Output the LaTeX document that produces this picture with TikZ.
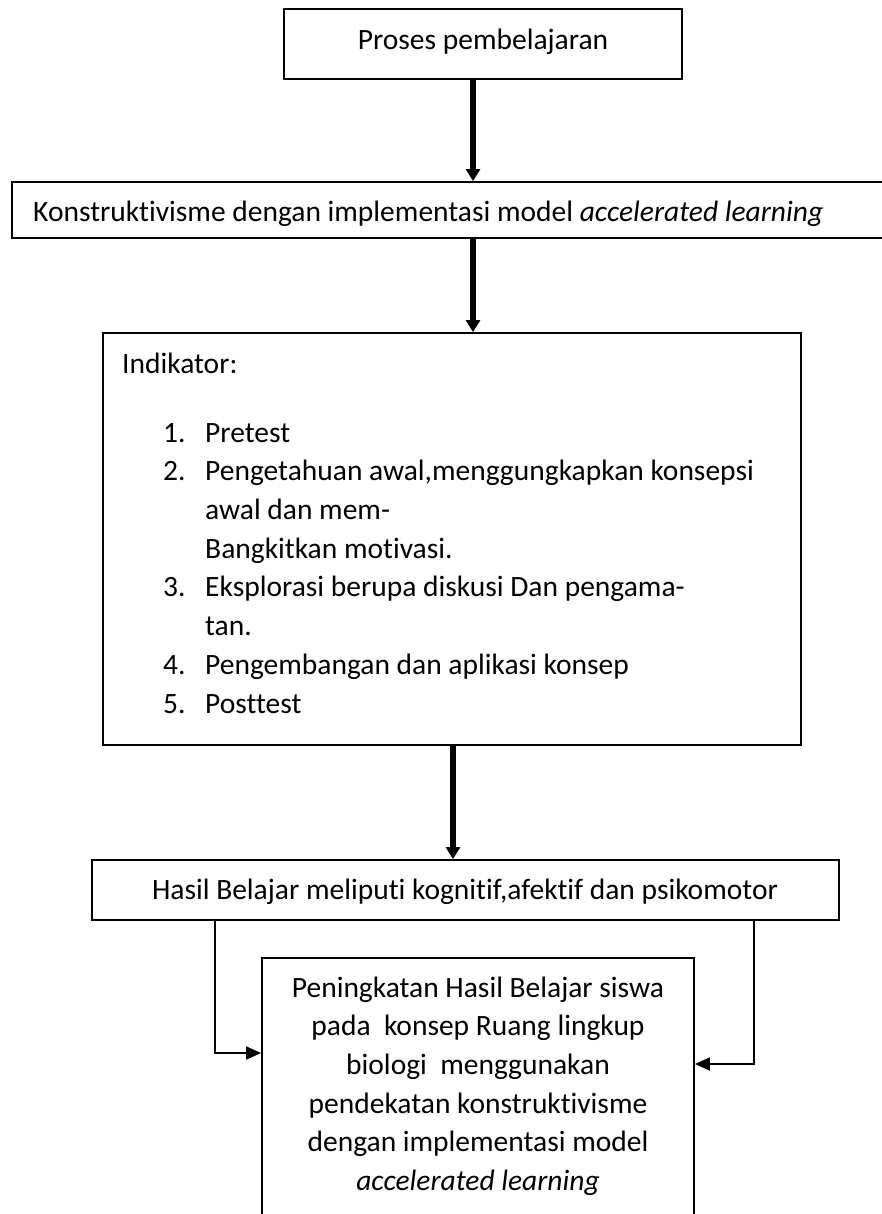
\documentclass[tikz,border=0pt]{standalone}
\usepackage{fontspec}
\setmainfont[Ligatures=NoCommon]{Carlito}
\usetikzlibrary{arrows.meta,calc}
\begin{document}
\begin{tikzpicture}[x=1pt,y=-1pt,
  boxshape/.style={draw, line width=1.8pt, rectangle, inner sep=0pt},
  txt/.style={inner sep=0pt, font=\fontsize{29.5}{36}\selectfont},
  bigarrow/.style={line width=6.5pt, -{Triangle[length=12pt,width=14pt]}},
  conn/.style={line width=1.8pt, -{Triangle[length=15pt,width=13pt]}}]
\useasboundingbox (0,0) rectangle (882,1214);
\clip (0,0) rectangle (882,1214);
\fill[white] (0,0) rectangle (882,1214);

% boxes
\node[boxshape, minimum width=398pt, minimum height=70pt] (top) at (483,44) {};
\node[boxshape, minimum width=878pt, minimum height=56pt] (k2) at (451,210) {};
\node[boxshape, minimum width=698pt, minimum height=412pt] (ind) at (452,539) {};
\node[boxshape, minimum width=747pt, minimum height=60pt] (hasil) at (465.5,890) {};
\node[boxshape, minimum width=432pt, minimum height=282pt] (final) at (478,1099) {};

% texts
\node[txt, anchor=base] (t1) at (483,50) {Proses pembelajaran};
\node[txt, anchor=base west] (t2) at (33,222) {Konstruktivisme dengan implementasi model \textit{accelerated learning}};
\node[txt, anchor=base west] (t3) at (122,373) {Indikator:};
\node[txt, anchor=base west] (n1) at (163,442) {1.};
\node[txt, anchor=base west] (l1) at (205,442) {Pretest};
\node[txt, anchor=base west] (n2) at (163,480.7) {2.};
\node[txt, anchor=base west] (l2) at (205,480.7) {Pengetahuan awal,menggungkapkan konsepsi};
\node[txt, anchor=base west] (l2b) at (205,519.4) {awal dan mem-};
\node[txt, anchor=base west] (l2c) at (205,558) {Bangkitkan motivasi.};
\node[txt, anchor=base west] (n3) at (163,596.8) {3.};
\node[txt, anchor=base west] (l3) at (205,596.8) {Eksplorasi berupa diskusi Dan pengama-};
\node[txt, anchor=base west] (l3b) at (205,635.5) {tan.};
\node[txt, anchor=base west] (n4) at (163,674.2) {4.};
\node[txt, anchor=base west] (l4) at (205,674.2) {Pengembangan dan aplikasi konsep};
\node[txt, anchor=base west] (n5) at (163,713) {5.};
\node[txt, anchor=base west] (l5) at (205,713) {Posttest};
\node[txt, anchor=base] (t4) at (465,899) {Hasil Belajar meliputi kognitif,afektif dan psikomotor};
\node[txt, anchor=base] (f1) at (478,997) {Peningkatan Hasil Belajar siswa};
\node[txt, anchor=base] (f2) at (478,1035.7) {pada\ \ konsep Ruang lingkup};
\node[txt, anchor=base] (f3) at (478,1074.4) {biologi\ \ menggunakan};
\node[txt, anchor=base] (f4) at (478,1113.1) {pendekatan konstruktivisme};
\node[txt, anchor=base] (f5) at (478,1151.8) {dengan implementasi model};
\node[txt, anchor=base] (f6) at (478,1190.5) {\textit{accelerated learning}};

% arrows
\draw[bigarrow] ([xshift=-10pt]top.south) -- ([xshift=-10pt]top.south |- k2.north);
\draw[bigarrow] ([xshift=21pt]ind.north |- k2.south) -- ([xshift=21pt]ind.north);
\draw[bigarrow] ([xshift=1pt]ind.south) -- ([xshift=1pt]ind.south |- hasil.north);
\draw[conn] ([xshift=-250.5pt]hasil.south) |- ([yshift=46pt]final.west);
\draw[conn] ([xshift=288.5pt]hasil.south) |- ([yshift=35pt]final.east);
\end{tikzpicture}
\end{document}
